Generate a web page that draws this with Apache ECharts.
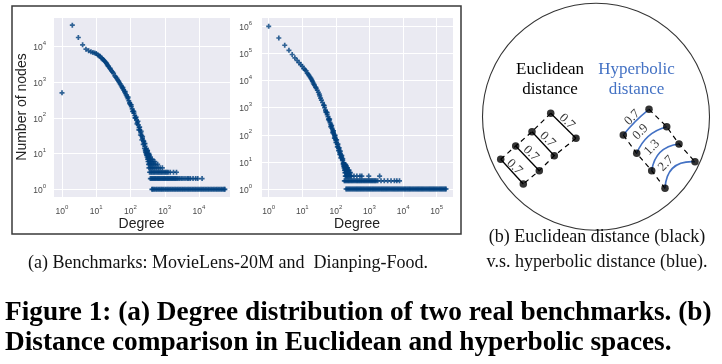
<!DOCTYPE html>
<html><head><meta charset="utf-8">
<script src="https://cdn.jsdelivr.net/npm/echarts@6/dist/echarts.min.js"></script>
<style>html,body{margin:0;padding:0;background:#fff}#c{width:722px;height:364px}</style>
</head><body><div id="c"></div><script>
// ---------------- data: (a) left panel, MovieLens-20M ----------------
const mlTickExp = [0, 1, 2, 3, 4];        // x tick labels 10^0..10^4
const mlYTickExp = [0, 1, 2, 3, 4];       // y tick labels 10^0..10^4
const mlCurve = [[1,500],[2,39000],[3,17600],[4,11000],[5,8300],[6,7500],[7,7000],[8,6700],[9,6500],
  [10,6300],[11,5750],[12,5450],[13,5250],[14,4730],[15,4500],[16,4270],[17,4000],[18,3760],[19,3520],[20,3310],
  [21,3080],[22,2850],[23,2700],[25,2450],[26,2250],[28,2070],[30,1900],
  [32,1740],[35,1480],[37,1380],[40,1260],[42,1150],[45,1060],[47,970],[50,890],[53,810],[56,730],[59,660],[63,600],[67,540],[71,480],[75,435],[79,390],
  [84,343],[89,300],[94,266],[100,235],[106,204],[112,178],[119,155],[126,135],[133,116],[141,100],[150,86],
  [158,74],[168,63],[178,53],[188,45],[200,38],[211,32],[224,27],[237,23],[251,19],[266,16],[282,13],[299,11]];
const mlSpread = [[60,700],[70,540],[85,380],[95,250],[105,230],[115,150],[125,150],[135,100],[145,105],
  [155,68],[165,80],[175,46],[185,55],[195,33],[205,42],[215,24],[225,30],[235,18],[245,22],[255,14],
  [265,19],[275,11],[290,14],[305,9],[315,12]];
const mlTail = [[270,12],[290,12],[310,12],[285,10],[305,10],[325,10],[345,10],[295,9],[315,9],[335,9],[360,9],
  [305,8],[325,8],[345,8],[375,8],[315,7],[335,7],[360,7],[390,7],[430,7],
  [325,6],[345,6],[375,6],[410,6],[460,6],[510,6],
  [335,5],[360,5],[395,5],[430,5],[480,5],[540,5],[620,5],
  [345,4],[375,4],[410,4],[450,4],[500,4],[560,4],[640,4],[730,4],[850,4]];
const mlThrees = [360,390,420,455,490,530,575,620,670,725,785,850,920,1000,1080,1170,1270,1450,1800,2200];
const mlTwos = [380,410,440,475,510,550,595,640,690,745,805,870,940,1010,1090,1180,1270,1370,1480,1600,1730,
  1870,2020,2180,2400,2650,3000,3400,3900,4500,5000,5600,6700,8000,9200,12300];
const mlOnes = [420,450,490,540,590,650,710,780,850,930,1030,1130,1240,1360,1500,1650,1820,2000,2200,2420,
  2660,2930,3230,3550,3900,4300,4750,5200,5750,6350,7000,7700,8500,9350,10300,11400,12500,13800,15200,
  16800,18500,20400,22500,24800,27300,30100,33200,36500,40200,44300,48800,53500,57000];

// ---------------- data: (a) right panel, Dianping-Food ----------------
const dpTickExp = [0, 1, 2, 3, 4, 5];
const dpYTickExp = [0, 1, 2, 3, 4, 5, 6];
const dpCurve = [[1,1000000],[2,370000],[3,200000],[4,130000],[5,91000],[6,69000],[7,55000],[8,45700],[9,38900],
  [10,33100],[11,27500],[12,25000],[13,22900],[14,18600],[15,17000],[16,15100],[17,13500],[18,12000],[19,10800],[20,9550],
  [21,8400],[22,7400],[23,6600],[25,5750],[26,5100],[28,4370],[30,3700],
  [32,3160],[33,2700],[35,2240],[37,1900],[40,1550],[43,1240],[46,1000],[49,815],[52,665],[55,555],[58,465],[61,390],[64,330],
  [67,280],[70,240],[73,205],[76,177],[79,154],[82,135],[85,118],[88,103],[91,91],[94,80],[97,71],[100,63],
  [105,52],[110,44],[115,37],[120,32],[125,27],[130,23],[135,20],[140,18],[145,16],[150,14],[155,12],[160,11],
  [170,9],[180,7],[190,6],[200,5]];
const dpSpread = [[45,1200],[50,700],[55,650],[60,360],[65,380],[70,200],[75,220],[80,120],[85,140],[90,75],
  [95,95],[100,52],[105,65],[110,36],[115,45],[120,26],[125,33],[130,19],[135,25],[140,14],[150,17],[160,13],[165,9]];
const dpTail = [[165,8],[175,8],[185,8],[195,8],[170,7],[185,7],[195,7],[205,7],
  [175,6],[185,6],[200,6],[210,6],[220,6],[180,5],[190,5],[210,5],[220,5],[230,5],[245,5],
  [185,4],[195,4],[205,4],[215,4],[225,4],[240,4],[255,4],[270,4]];
const dpThrees = [190,200,210,220,230,245,260,275,290,345,420,520,590,950,2000];
const dpTwos = [178,190,205,220,235,250,270,290,310,335,360,390,420,450,485,520,560,600,650,700,750,810,870,
  940,1010,1090,1170,1260,1360,1460,1570,1750,2200,2750,3470,4370,5500,6500,7800];
const dpOnes = [200,215,232,250,268,290,312,336,362,390,420,452,487,525,565,610,655,705,760,820,880,950,1020,
  1100,1190,1280,1380,1490,1600,1730,1860,2000,2160,2330,2510,2700,2910,3140,3380,3640,3920,4230,4560,4910,
  5290,5700,6140,6620,7130,7690,8280,8930,9620,10400,11200,12000,13000,14000,15100,16200,17500,18900,20300,
  21900,23600,25400,27400,29500,31800,34300,37000,39800,42900,46300,49900,53800,58000,62500,67300,72500,
  78200,84300,90800,97900,105000,114000,123000,132000,142000,153000,165000,178000,190000];

// ---------------- data: (b) diagram (diagram units) ----------------
const eucRowA = [[550.7,113.3],[532,131.7],[515.7,146],[500.7,159.3]];
const eucRowB = [[576,138.3],[554.3,155.7],[539.3,170.7],[523.3,184]];
const eucLabels = ['0.7','0.7','0.7','0.7'];
const eucLabelAt = [[567,121.5],[547.5,139.5],[531,153.5],[514.5,167]];
const hypRowA = [[623.3,135],[636.7,153.3],[651.7,170.7],[665,188.3]];
const hypRowB = [[649,109.3],[666.7,126.7],[679,144],[695,161.7]];
const hypLabels = ['0.7','0.9','1.3','2.7'];
const hypLabelAt = [[632.3,117.5],[640.5,132],[652,147.5],[666,163.5]];
const diskCenter = [596,116.7];

// ---------------- chart ----------------
const PLUS = 'path://M3.3,0H6.7V3.3H10V6.7H6.7V10H3.3V6.7H0V3.3H3.3Z';
const BLUE = '#00407d';
const level = (degs, n) => degs.map(d => [d, n]);
const mlData = mlCurve.concat(mlSpread, mlTail, level(mlThrees,3), level(mlTwos,2), level(mlOnes,1));
const dpData = dpCurve.concat(dpSpread, dpTail, level(dpThrees,3), level(dpTwos,2), level(dpOnes,1));

function tickFmt(exps) {
  return v => {
    const l = Math.log10(v), e = Math.round(l);
    if (Math.abs(l - e) > 1e-6 || exps.indexOf(e) < 0) return '';
    return '{b|10}{s|' + e + '}';
  };
}
const rich = {
  b: {fontSize: 8.5, color: '#4a4a4a', fontFamily: 'Liberation Sans', verticalAlign: 'bottom', lineHeight: 12},
  s: {fontSize: 6, color: '#4a4a4a', fontFamily: 'Liberation Sans', verticalAlign: 'top', lineHeight: 7}
};
function logAxis(grid, min, max, exps, extra) {
  return Object.assign({
    type: 'log', logBase: 10, gridIndex: grid, min: min, max: max,
    axisLine: {show: false}, axisTick: {show: false},
    splitLine: {show: true, lineStyle: {color: '#ffffff', width: 1}},
    axisLabel: {formatter: tickFmt(exps), rich: rich, margin: 7},
    nameTextStyle: {fontFamily: 'Liberation Sans', fontSize: 14, color: '#222'}
  }, extra || {});
}

const serif = 'Liberation Serif';
const chart = echarts.init(document.getElementById('c'), null, {renderer: 'canvas'});
chart.setOption({
  animation: false,
  grid: [
    {left: 53, top: 17, width: 177, height: 180, show: true, backgroundColor: '#eaeaf2', borderWidth: 0},
    {left: 261, top: 17, width: 192, height: 180, show: true, backgroundColor: '#eaeaf2', borderWidth: 0},
    {left: 470, top: 0, width: 252, height: 240, show: false}
  ],
  xAxis: [
    logAxis(0, 0.546, 80300, mlTickExp, {name: 'Degree', nameLocation: 'middle', nameGap: 19}),
    logAxis(1, 0.59, 305000, dpTickExp, {name: 'Degree', nameLocation: 'middle', nameGap: 19}),
    {type: 'value', gridIndex: 2, min: 470, max: 722, show: false, splitLine: {show: false}}
  ],
  yAxis: [
    logAxis(0, 0.609, 66000, mlYTickExp, {name: 'Number of nodes', nameLocation: 'middle', nameGap: 21}),
    logAxis(1, 0.507, 2200000, dpYTickExp, {axisLabel: {formatter: tickFmt(dpYTickExp), rich: rich, margin: 9}}),
    {type: 'value', gridIndex: 2, min: 0, max: 240, inverse: true, show: false, splitLine: {show: false}}
  ],
  series: [
    {type: 'scatter', xAxisIndex: 0, yAxisIndex: 0, data: mlData, symbol: PLUS, symbolSize: 5,
     itemStyle: {color: BLUE}, silent: true},
    {type: 'scatter', xAxisIndex: 1, yAxisIndex: 1, data: dpData, symbol: PLUS, symbolSize: 5,
     itemStyle: {color: BLUE}, silent: true},
    // (b) disk
    {type: 'scatter', xAxisIndex: 2, yAxisIndex: 2, data: [diskCenter], symbol: 'circle', symbolSize: 227,
     itemStyle: {color: 'rgba(0,0,0,0)', borderColor: '#000', borderWidth: 1.1}, silent: true, z: 1},
    // dashed rows
    ...[eucRowA, eucRowB, hypRowA, hypRowB].map(r => ({
      type: 'line', xAxisIndex: 2, yAxisIndex: 2, data: r, showSymbol: false, silent: true,
      lineStyle: {color: '#000', width: 1.2, type: [5, 4]}, z: 2})),
    // Euclidean rungs
    {type: 'lines', coordinateSystem: 'cartesian2d', xAxisIndex: 2, yAxisIndex: 2, silent: true, z: 3,
     lineStyle: {color: '#000', width: 1.3, opacity: 1, curveness: 0},
     data: eucRowA.map((p, i) => ({coords: [p, eucRowB[i]]}))},
    // hyperbolic arcs
    {type: 'lines', coordinateSystem: 'cartesian2d', xAxisIndex: 2, yAxisIndex: 2, silent: true, z: 3,
     lineStyle: {color: '#4472c4', width: 1.6, opacity: 1},
     data: hypRowA.map((p, i) => ({coords: [p, hypRowB[i]], lineStyle: {curveness: [0.06, 0.25, 0.38, 0.5][i]}}))},
    // dots
    {type: 'scatter', xAxisIndex: 2, yAxisIndex: 2, data: eucRowA.concat(eucRowB, hypRowA, hypRowB),
     symbol: 'circle', symbolSize: 7.5, itemStyle: {color: '#000'}, silent: true, z: 5},
    // distance labels
    {type: 'scatter', xAxisIndex: 2, yAxisIndex: 2, symbolSize: 0, silent: true, z: 6,
     data: eucLabelAt.map((p, i) => [p[0], p[1], eucLabels[i]]),
     label: {show: true, position: 'inside', rotate: -45, formatter: p => p.value[2],
             fontFamily: serif, fontSize: 13, color: '#000'}},
    {type: 'scatter', xAxisIndex: 2, yAxisIndex: 2, symbolSize: 0, silent: true, z: 6,
     data: hypLabelAt.map((p, i) => [p[0], p[1], hypLabels[i]]),
     label: {show: true, position: 'inside', rotate: 45, formatter: p => p.value[2],
             fontFamily: serif, fontSize: 13, color: '#000'}}
  ],
  graphic: [
    {type: 'rect', shape: {x: 12, y: 6, width: 449, height: 228}, style: {fill: 'none', stroke: '#3a3a3a', lineWidth: 1.5}, z: 100},
    {type: 'text', x: 550, y: 70, style: {text: 'Euclidean', font: '17px "Liberation Serif"', fill: '#000', textAlign: 'center', textVerticalAlign: 'middle'}},
    {type: 'text', x: 550, y: 90, style: {text: 'distance', font: '17px "Liberation Serif"', fill: '#000', textAlign: 'center', textVerticalAlign: 'middle'}},
    {type: 'text', x: 636.5, y: 70, style: {text: 'Hyperbolic', font: '17px "Liberation Serif"', fill: '#4472c4', textAlign: 'center', textVerticalAlign: 'middle'}},
    {type: 'text', x: 636.5, y: 90, style: {text: 'distance', font: '17px "Liberation Serif"', fill: '#4472c4', textAlign: 'center', textVerticalAlign: 'middle'}},
    {type: 'text', x: 228, y: 263, style: {text: '(a) Benchmarks: MovieLens-20M and  Dianping-Food.', font: '18px "Liberation Serif"', fill: '#111', textAlign: 'center', textVerticalAlign: 'middle'}},
    {type: 'text', x: 597, y: 237, style: {text: '(b) Euclidean distance (black)', font: '18px "Liberation Serif"', fill: '#111', textAlign: 'center', textVerticalAlign: 'middle'}},
    {type: 'text', x: 597, y: 262, style: {text: 'v.s. hyperbolic distance (blue).', font: '18px "Liberation Serif"', fill: '#111', textAlign: 'center', textVerticalAlign: 'middle'}},
    {type: 'text', x: 5, y: 313, style: {text: 'Figure 1: (a) Degree distribution of two real benchmarks. (b)', font: 'bold 27.3px "Liberation Serif"', fill: '#000', textAlign: 'left', textVerticalAlign: 'middle'}},
    {type: 'text', x: 5, y: 343, style: {text: 'Distance comparison in Euclidean and hyperbolic spaces.', font: 'bold 27.3px "Liberation Serif"', fill: '#000', textAlign: 'left', textVerticalAlign: 'middle'}}
  ]
});
</script></body></html>
